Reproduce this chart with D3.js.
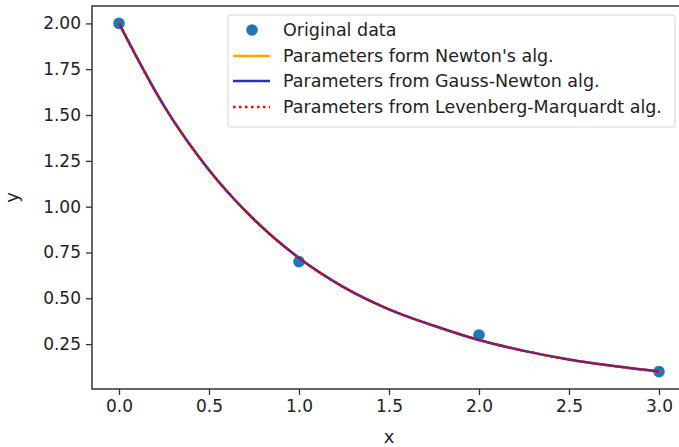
<!DOCTYPE html>
<html><head><meta charset="utf-8">
<script src="https://cdn.jsdelivr.net/npm/d3@7"></script>
<style>body{margin:0;background:#fff}svg{display:block}</style>
</head><body>
<script>
// Data
const dataX = [0, 1, 2, 3];
const dataY = [2.0, 0.7, 0.3, 0.1];
// Fitted curves (all three coincide)
const curveX = [0, 0.25, 0.5, 0.75, 1.0, 1.25, 1.5, 1.75, 2.0, 2.25, 2.5, 2.75, 3.0];
const newtonY = [2.00, 1.55, 1.20, 0.93, 0.72, 0.56, 0.44, 0.35, 0.272, 0.213, 0.166, 0.130, 0.100];
const gaussNewtonY = [2.00, 1.55, 1.20, 0.93, 0.72, 0.56, 0.44, 0.35, 0.272, 0.213, 0.166, 0.130, 0.100];
const levenbergY = [2.00, 1.55, 1.20, 0.93, 0.72, 0.56, 0.44, 0.35, 0.272, 0.213, 0.166, 0.130, 0.100];
const xTicks = [0.0, 0.5, 1.0, 1.5, 2.0, 2.5, 3.0];
const yTicks = [0.25, 0.50, 0.75, 1.00, 1.25, 1.50, 1.75, 2.00];
const legendLabels = ["Original data", "Parameters form Newton's alg.", "Parameters from Gauss-Newton alg.", "Parameters from Levenberg-Marquardt alg."];

const W = 679, H = 447;
const L = 92, T = 6, R = 686, B = 389;
const font = "'DejaVu Sans', sans-serif";
const fs = 17;

const svg = d3.select("body").append("svg").attr("width", W).attr("height", H);
const x = d3.scaleLinear().domain([-0.15, 3.15]).range([L, R]);
const y = d3.scaleLinear().domain([0.005, 2.095]).range([B, T]);

// Axes
const xAxis = d3.axisBottom(x).tickValues(xTicks).tickFormat(d3.format(".1f")).tickSize(6).tickPadding(5);
const yAxis = d3.axisLeft(y).tickValues(yTicks).tickFormat(d3.format(".2f")).tickSize(6).tickPadding(5);
const gx = svg.append("g").attr("transform", `translate(0,${B})`).call(xAxis);
const gy = svg.append("g").attr("transform", `translate(${L},0)`).call(yAxis);
[gx, gy].forEach(g => {
  g.select(".domain").remove();
  g.selectAll(".tick line").attr("stroke", "#333").attr("stroke-width", 1.3);
  g.selectAll(".tick text").attr("fill", "#222").style("font-family", font).style("font-size", fs + "px");
});

// Frame
svg.append("rect").attr("x", L).attr("y", T).attr("width", R - L).attr("height", B - T)
  .attr("fill", "none").attr("stroke", "#333").attr("stroke-width", 1.5);

// Clip
svg.append("clipPath").attr("id", "clip").append("rect").attr("x", L).attr("y", T).attr("width", R - L).attr("height", B - T);
const plot = svg.append("g").attr("clip-path", "url(#clip)");

// Scatter
plot.selectAll("circle.pt").data(dataX.map((d, i) => [d, dataY[i]])).enter().append("circle")
  .attr("class", "pt").attr("cx", d => x(d[0])).attr("cy", d => y(d[1])).attr("r", 5.8).attr("fill", "#1f77b4");

const line = d3.line().x(d => x(d[0])).y(d => y(d[1])).curve(d3.curveMonotoneX);
const mk = arr => curveX.map((d, i) => [d, arr[i]]);
plot.append("path").attr("d", line(mk(newtonY))).attr("fill", "none").attr("stroke", "orange").attr("stroke-width", 2.5);
plot.append("path").attr("d", line(mk(gaussNewtonY))).attr("fill", "none").attr("stroke", "#2f2fb0").attr("stroke-width", 2.5);
plot.append("path").attr("d", line(mk(levenbergY))).attr("fill", "none").attr("stroke", "red").attr("stroke-width", 2.5).attr("stroke-dasharray", "2.5,3.5");

// Axis labels
svg.append("text").attr("x", x(1.5)).attr("y", 443).attr("text-anchor", "middle")
  .style("font-family", font).style("font-size", "18px").attr("fill", "#222").text("x");
svg.append("text").attr("transform", `translate(18,${(T + B) / 2}) rotate(-90)`).attr("text-anchor", "middle")
  .style("font-family", font).style("font-size", "18px").attr("fill", "#222").text("y");

// Legend
const lg = svg.append("g");
lg.append("rect").attr("x", 228).attr("y", 15).attr("width", 447).attr("height", 112).attr("rx", 3)
  .attr("fill", "white").attr("fill-opacity", 0.8).attr("stroke", "#d5d5d5").attr("stroke-width", 1);
const rows = [30, 56, 81, 107];
lg.append("circle").attr("cx", 252).attr("cy", rows[0]).attr("r", 5.8).attr("fill", "#1f77b4");
lg.append("line").attr("x1", 233).attr("x2", 270).attr("y1", rows[1]).attr("y2", rows[1]).attr("stroke", "orange").attr("stroke-width", 2.5);
lg.append("line").attr("x1", 233).attr("x2", 270).attr("y1", rows[2]).attr("y2", rows[2]).attr("stroke", "#2f2fb0").attr("stroke-width", 2.5);
lg.append("line").attr("x1", 233).attr("x2", 270).attr("y1", rows[3]).attr("y2", rows[3]).attr("stroke", "red").attr("stroke-width", 2.5).attr("stroke-dasharray", "2.5,3.5");
legendLabels.forEach((t, i) => {
  lg.append("text").attr("x", 283).attr("y", rows[i]).attr("dy", "0.35em")
    .attr("textLength", null)
    .style("font-family", font).style("font-size", "17.5px").attr("fill", "#222").text(t);
});
</script>
</body></html>
